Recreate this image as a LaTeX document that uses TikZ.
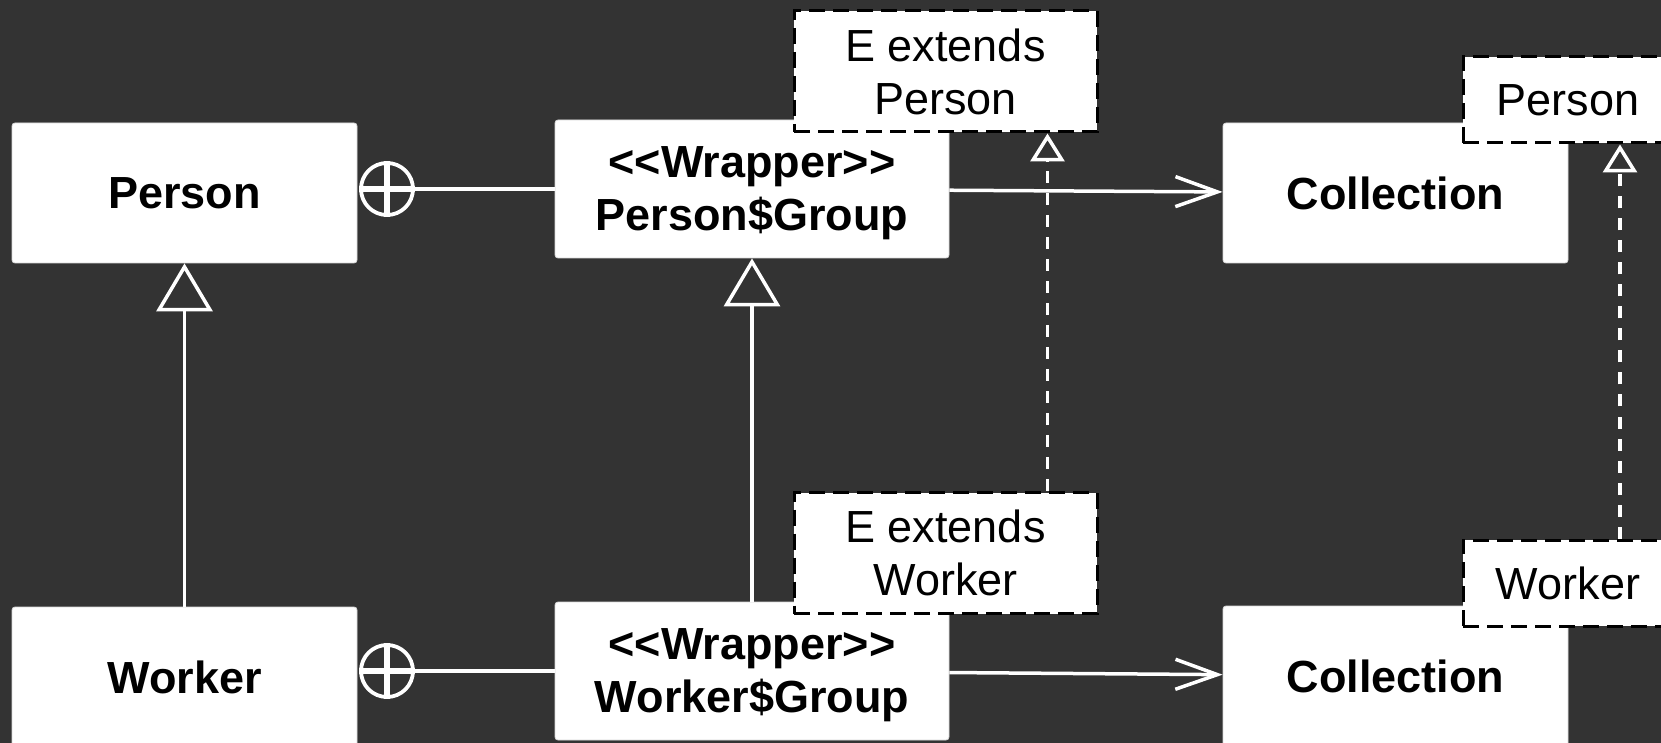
\documentclass[tikz,border=0pt]{standalone}
\usepackage{fontspec}
\setmainfont{Liberation Sans}
\usetikzlibrary{arrows.meta}
\definecolor{bgdark}{HTML}{333333}
\newcommand{\stereo}[1]{<\kern0pt<#1>\kern0pt>}

\begin{document}
\begin{tikzpicture}[x=0.5pt,y=-0.5pt,
    every node/.style={font=\fontsize{22.5}{26.5}\selectfont},
    cls/.style={rectangle, fill=white, draw=white!85!black, line width=0.4pt, rounded corners=1.5pt, minimum width=172.5pt, minimum height=70pt, inner sep=0pt, align=center, font=\fontsize{22.5}{26.5}\selectfont\bfseries},
    wrap/.style={cls, minimum width=197pt, minimum height=69pt, text depth=0pt},
    note/.style={rectangle, fill=white, draw=black, line width=1.5pt, dash pattern=on 8pt off 4pt, inner sep=0pt, align=center, minimum width=151.5pt, minimum height=60.5pt},
    arg/.style={note, minimum width=105pt, minimum height=43pt},
    conn/.style={draw=white, line width=1.75pt},
    inherit/.style={conn, -{Triangle[open, length=24pt, width=28pt]}},
    bind/.style={conn, dash pattern=on 6pt off 5pt, -{Triangle[open, length=14pt, width=17pt]}},
    assoc/.style={conn, -{Straight Barb[length=21pt, width=15pt]}},
    nest/.style={circle, draw=white, line width=1.9pt, minimum size=26pt, inner sep=0pt}]
    \useasboundingbox (0,0) rectangle (1661,743);
    \clip (0,0) rectangle (1661,743);
    \fill[bgdark] (0,0) rectangle (1661,743);

    % classes
    \node[cls] (person) at (184.5,193) {Person};
    \node[cls] (worker) at (184.5,677) {Worker};
    \node[wrap] (pgroup) at (752,189) {\stereo{Wrapper}\\Person\$Group};
    \node[wrap] (wgroup) at (752,671) {\stereo{Wrapper}\\Worker\$Group};
    \node[cls] (pcoll) at (1395.5,193) {Collection};
    \node[cls] (wcoll) at (1395.5,676) {Collection};

    % nesting
    \node[nest] (pnest) at (387,189) {};
    \node[nest] (wnest) at (387,671) {};
    \draw[conn, line width=3pt] (pnest.north) -- (pnest.south) (pnest.west) -- (pnest.east);
    \draw[conn, line width=3pt] (wnest.north) -- (wnest.south) (wnest.west) -- (wnest.east);
    \draw[conn] (pnest.east) -- (pgroup.west);
    \draw[conn] (wnest.east) -- (wgroup.west);

    \draw[inherit] (worker) -- (person);
    \draw[inherit] (wgroup) -- (pgroup);
    \draw[assoc] (pgroup) -- (pcoll);
    \draw[assoc] (wgroup) -- (wcoll);

    % bindings
    \node[note] (pbound) at (945.5,71.5) {E extends\\Person};
    \node[note] (wbound) at (945.5,553) {E extends\\Worker};
    \node[arg] (parg) at (1568,100) {Person};
    \node[arg] (warg) at (1568,583) {Worker};
    \draw[bind] ([xshift=51pt]wbound.north) -- ([xshift=51pt]pbound.south);
    \draw[bind] ([xshift=26pt]warg.north) -- ([xshift=26pt]parg.south);
\end{tikzpicture}
\end{document}
